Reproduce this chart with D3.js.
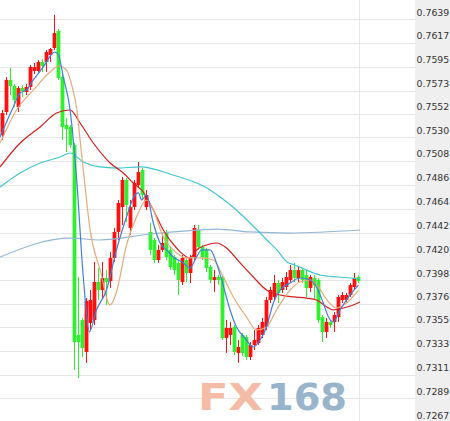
<!DOCTYPE html>
<html><head><meta charset="utf-8">
<script src="https://cdn.jsdelivr.net/npm/d3@7"></script>
<style>html,body{margin:0;padding:0;background:#fff;}svg{display:block;}</style>
</head><body>
<svg id="chart" width="450" height="421"></svg>
<script>
// ---- data ----
const tickLabels = ["0.7639","0.7617","0.7595","0.7573","0.7552","0.7530","0.7508","0.7486","0.7464","0.7442","0.7420","0.7398","0.7376","0.7355","0.7333","0.7311","0.7289","0.7267"];
const openP = [.75322,.75534,.75830,.75774,.75580,.75756,.75719,.75765,.75913,.75913,.75996,.75996,.76060,.76125,.76282,.75857,.75414,.75396,.75230,.73476,.73614,.73319,.73587,.73614,.73965,.73891,.74002,.73974,.74187,.74427,.74657,.74907,.74464,.74657,.74860,.74999,.74657,.74427,.74353,.74168,.74261,.74417,.74261,.74196,.74141,.73965,.74168,.74048,.74196,.74445,.74288,.74261,.74104,.73984,.74011,.74011,.73448,.73476,.73550,.73310,.73476,.73458,.73273,.73384,.73402,.73476,.73550,.73799,.73827,.73956,.73891,.73919,.73984,.74076,.74002,.74076,.74030,.73910,.74002,.73984,.73642,.73504,.73596,.73596,.73642,.73799,.73799,.73845,.73919,.74011];
const closeP = [.75525,.75830,.75774,.75645,.75756,.75728,.75765,.75950,.75950,.75996,.75959,.76088,.76116,.76263,.75848,.75396,.75377,.75230,.73411,.73411,.73356,.73790,.73799,.73965,.73891,.74002,.73965,.74187,.74427,.74694,.74907,.74676,.74657,.74879,.74980,.74768,.74768,.74261,.74168,.74261,.74325,.74196,.74104,.74076,.73984,.74187,.74048,.74187,.74464,.74288,.74196,.74094,.73984,.74011,.73984,.73448,.73541,.73541,.73319,.73365,.73310,.73273,.73384,.73430,.73541,.73596,.73799,.73891,.73956,.73864,.73965,.74011,.74076,.74002,.74076,.73984,.73910,.74011,.73937,.73614,.73504,.73596,.73568,.73661,.73827,.73845,.73845,.73937,.74002,.73974];
const highP = [.75553,.75857,.75940,.75793,.75774,.75783,.75793,.75968,.75987,.76014,.76023,.76107,.76125,.76430,.76300,.75876,.75479,.75414,.75248,.74011,.73633,.73817,.73891,.74150,.74094,.74150,.74076,.74242,.74464,.74722,.74934,.74925,.74722,.74907,.75073,.75017,.74814,.74510,.74371,.74307,.74417,.74445,.74288,.74214,.74168,.74214,.74187,.74214,.74491,.74491,.74307,.74279,.74122,.74076,.74030,.74030,.73614,.73596,.73568,.73430,.73494,.73476,.73411,.73522,.73568,.73633,.73827,.73919,.74030,.73984,.74002,.74057,.74122,.74141,.74104,.74094,.74076,.74030,.74030,.74002,.73661,.73633,.73614,.73688,.73845,.73873,.73864,.73956,.74048,.74030];
const lowP = [.75276,.75507,.75691,.75580,.75534,.75673,.75691,.75737,.75885,.75894,.75903,.75903,.75996,.76107,.75830,.75276,.75165,.75202,.73153,.73079,.73273,.73218,.73522,.73568,.73799,.73817,.73753,.73910,.74150,.74353,.74491,.74519,.74399,.74630,.74833,.74722,.74630,.74214,.74141,.74141,.74242,.74168,.74076,.74030,.73845,.73937,.73965,.73956,.74168,.74261,.74168,.74057,.73956,.73873,.73937,.73430,.73310,.73384,.73291,.73218,.73282,.73245,.73245,.73338,.73384,.73448,.73522,.73771,.73799,.73771,.73864,.73891,.73956,.73965,.73965,.73956,.73827,.73873,.73799,.73587,.73411,.73448,.73541,.73504,.73596,.73771,.73781,.73827,.73891,.73956];

// moving averages: [candle index, price]
const ma5 = [[-0.6,.75304],[2.7,.75580],[4.4,.75710],[6,.75737],[7.7,.75830],[10.2,.75950],[13.1,.76088],[14,.76060],[15.2,.75857],[16.9,.75553],[18.5,.74934],[20.2,.74011],[21.7,.73504],[23.5,.73707],[26,.73891],[28.5,.74261],[31,.74565],[33.1,.74768],[34,.74787],[34.8,.74722],[36,.74768],[37.7,.74510],[39.4,.74325],[41,.74261],[42.7,.74196],[45.2,.74141],[46.9,.74094],[48.5,.74196],[49.8,.74261],[51.9,.74261],[53.5,.74141],[54.8,.73984],[56.9,.73707],[58.5,.73550],[60.6,.73448],[62.7,.73365],[64.4,.73430],[66,.73550],[67.7,.73771],[69.4,.73891],[71.9,.73956],[74.4,.74002],[76.9,.73984],[78.5,.73919],[80.2,.73771],[81.5,.73642],[82.7,.73596],[84.4,.73707],[86.5,.73827],[89,.73937]];
const ma10 = [[-0.6,.75248],[3.5,.75553],[7.7,.75737],[11.9,.75903],[14,.75959],[16,.75922],[17.3,.75783],[18.6,.75553],[19.4,.75276],[20.6,.74860],[21.9,.74445],[24.4,.74076],[26.9,.73753],[28.5,.73873],[31,.74307],[33.5,.74565],[36,.74722],[37.7,.74630],[40.2,.74381],[42.7,.74261],[46,.74187],[49.4,.74187],[52.7,.74168],[55.2,.74011],[57.7,.73827],[61,.73642],[63.5,.73522],[66,.73550],[68.5,.73707],[71.9,.73891],[74.4,.73965],[76.9,.73984],[79,.73919],[81.1,.73799],[83.5,.73725],[86,.73771],[89,.73891]];
const ma20 = [[-0.6,.75027],[4.4,.75248],[9.4,.75396],[13.5,.75525],[16.9,.75553],[19.4,.75433],[22.7,.75248],[26.9,.75064],[30.2,.74971],[32.7,.74879],[35.2,.74796],[37.7,.74630],[40.2,.74445],[43.5,.74279],[46.9,.74187],[48.5,.74261],[51,.74307],[53.5,.74325],[56,.74279],[59.4,.74141],[62.7,.74011],[66,.73891],[69.4,.73845],[72.7,.73827],[76,.73817],[78.5,.73799],[81.1,.73734],[82.7,.73707],[85.2,.73725],[87.7,.73753],[89.4,.73781]];
const ma60 = [[-0.6,.74842],[4.4,.74971],[9.4,.75064],[14.4,.75119],[16.9,.75156],[20.2,.75073],[24.4,.75027],[28.5,.75017],[34.4,.75027],[42.6,.74953],[51.1,.74833],[54.4,.74750],[57.6,.74657],[61.9,.74510],[64.4,.74417],[66.1,.74353],[68.6,.74261],[71.1,.74150],[73.1,.74122],[79.4,.74030],[84,.74011],[89.4,.73993]];
const ma120 = [[-0.6,.74196],[16.9,.74371],[24.4,.74353],[36.9,.74408],[42.6,.74427],[53.6,.74454],[61.9,.74427],[71.9,.74417],[89.4,.74445]];

const vGridIndex = 89.2;

// ---- drawing ----
const svg = d3.select("#chart");
const W = 450, H = 421, plotRight = 415;
const n = openP.length;
const x = d3.scaleLinear().domain([0, n - 1]).range([2.5, 2.5 + 4 * (n - 1)]);
const tickVals = tickLabels.map(Number);
const y = d3.scaleLinear().domain([0.7267, 0.7639]).range([422.3, 19.3]);

svg.append("rect").attr("width", W).attr("height", H).attr("fill", "#fff");
svg.append("rect").attr("x", plotRight).attr("y", 0).attr("width", W - plotRight).attr("height", H).attr("fill", "#efefef");

// grid
const grid = svg.append("g").attr("stroke", "#e6e6e6").attr("stroke-width", 1);
grid.selectAll("line.h").data(tickVals).join("line").attr("class", "h")
  .attr("x1", 0).attr("x2", plotRight)
  .attr("y1", d => Math.round(y(d)) + 0.5).attr("y2", d => Math.round(y(d)) + 0.5);
grid.append("line").attr("x1", Math.round(x(vGridIndex)) + 0.5).attr("x2", Math.round(x(vGridIndex)) + 0.5)
  .attr("y1", 0).attr("y2", H);

// watermark
const wm = svg.append("g").attr("font-family", "'DejaVu Sans', sans-serif").attr("font-weight", "bold").attr("font-size", 37);
wm.append("text").attr("x", 198).attr("y", 410).attr("fill", "#f4bca6").attr("textLength", 65).attr("lengthAdjust", "spacingAndGlyphs").text("FX");
wm.append("text").attr("x", 267).attr("y", 410).attr("fill", "#97b4cb").attr("textLength", 80).attr("lengthAdjust", "spacingAndGlyphs").text("168");

// candles
const up = "#ff0f0f", down = "#2ef02e";
const candles = d3.range(n).map(i => ({i, o: openP[i], c: closeP[i], h: highP[i], l: lowP[i]}));
const cg = svg.append("g");
const bw = 3.8;
cg.selectAll("line.wick").data(candles).join("line").attr("class", "wick")
  .attr("x1", d => x(d.i)).attr("x2", d => x(d.i))
  .attr("y1", d => y(d.h)).attr("y2", d => y(d.l))
  .attr("stroke", d => d.c >= d.o ? up : down).attr("stroke-width", 1);
cg.selectAll("rect.body").data(candles).join("rect").attr("class", "body")
  .attr("x", d => x(d.i) - bw / 2).attr("width", bw)
  .attr("y", d => y(Math.max(d.o, d.c)))
  .attr("height", d => Math.max(1, y(Math.min(d.o, d.c)) - y(Math.max(d.o, d.c))))
  .attr("fill", d => d.c >= d.o ? up : down);

// MA lines
const line = d3.line().x(d => x(d[0])).y(d => y(d[1])).curve(d3.curveMonotoneX);
const maSeries = [
  {data: ma120, color: "#93b6d6"},
  {data: ma60, color: "#3fc6cf"},
  {data: ma20, color: "#d41c1c"},
  {data: ma10, color: "#e8a97a"},
  {data: ma5, color: "#3f7fd9"}
];
svg.append("g").selectAll("path").data(maSeries).join("path")
  .attr("d", d => line(d.data)).attr("fill", "none")
  .attr("stroke", d => d.color).attr("stroke-width", 1.2);

// right price axis
const axis = d3.axisRight(y).tickValues(tickVals).tickSize(0).tickPadding(1.5)
  .tickFormat((d, i) => tickLabels[i]);
const ag = svg.append("g").attr("transform", `translate(${plotRight},0)`).call(axis);
ag.select(".domain").remove();
ag.selectAll("text").attr("font-family", "'DejaVu Sans', Verdana, sans-serif").attr("font-size", 9.4)
  .attr("fill", "#333").attr("dy", "-0.45em");
</script>
</body></html>
